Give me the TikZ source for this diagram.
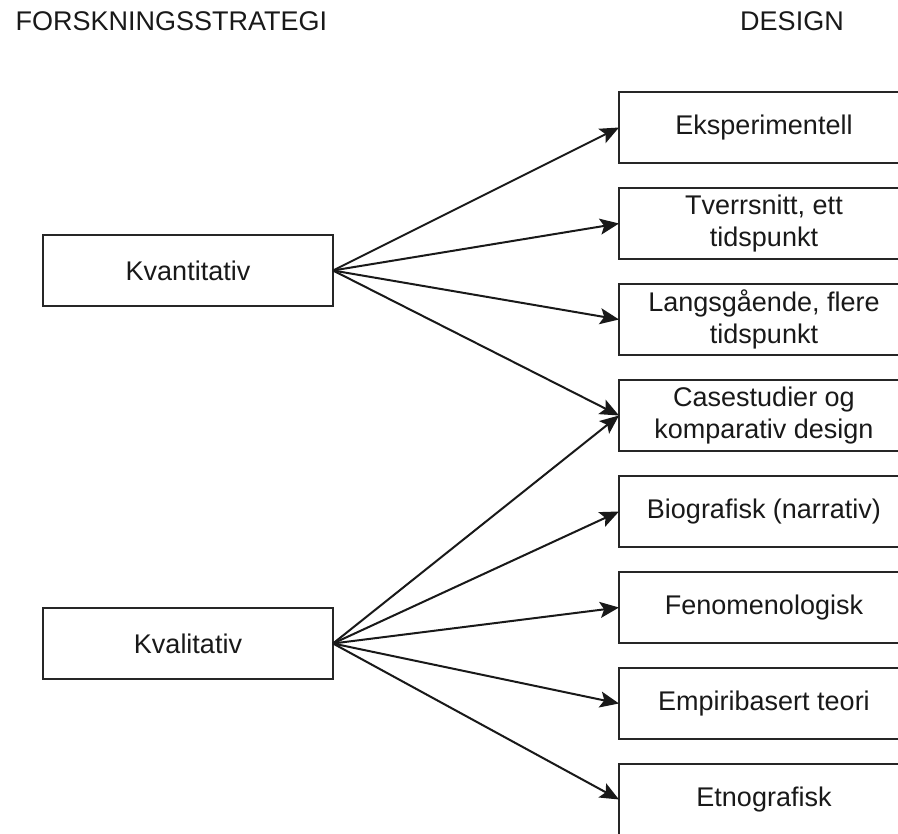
\documentclass[tikz,border=0pt]{standalone}
\usepackage{fontspec}
\setmainfont{Liberation Sans}
\usetikzlibrary{arrows.meta}
\begin{document}
\begin{tikzpicture}[x=1pt, y=-1pt,
  txt/.style={font=\fontsize{27}{32}\selectfont, text=black!90},
  box/.style={txt, draw=black!85, line width=2pt, fill=white,
    minimum width=290pt, minimum height=71pt, inner sep=0pt,
    outer sep=0pt, align=center, anchor=north west},
  arr/.style={draw=black!90, line width=2pt,
    -{Stealth[length=19pt, width=16pt, inset=4pt]}}]
  \useasboundingbox (0,0) rectangle (898,834);
  \clip (0,0) rectangle (898,834);

  % column headings
  \node[txt, anchor=west] (hstrat) at (12,21) {FORSKNINGSSTRATEGI};
  \node[txt] (hdesign) at (792,21) {DESIGN};

  % research strategies
  \node[box] (kvant) at (43,235) {Kvantitativ};
  \node[box] (kval)  at (43,608) {Kvalitativ};

  % designs
  \node[box] (eksp) at (619,92)  {Eksperimentell};
  \node[box] (tver) at (619,188) {Tverrsnitt, ett\\tidspunkt};
  \node[box] (lang) at (619,284) {Langsgående, flere\\tidspunkt};
  \node[box] (case) at (619,380) {Casestudier og\\komparativ design};
  \node[box] (bio)  at (619,476) {Biografisk (narrativ)};
  \node[box] (feno) at (619,572) {Fenomenologisk};
  \node[box] (empi) at (619,668) {Empiribasert teori};
  \node[box] (etno) at (619,764) {Etnografisk};

  % quantitative designs
  \draw[arr] (kvant.east) -- (eksp.west);
  \draw[arr] (kvant.east) -- (tver.west);
  \draw[arr] (kvant.east) -- (lang.west);
  \draw[arr] (kvant.east) -- (case.west);

  % qualitative designs
  \draw[arr] (kval.east) -- (case.west);
  \draw[arr] (kval.east) -- (bio.west);
  \draw[arr] (kval.east) -- (feno.west);
  \draw[arr] (kval.east) -- (empi.west);
  \draw[arr] (kval.east) -- (etno.west);
\end{tikzpicture}
\end{document}
